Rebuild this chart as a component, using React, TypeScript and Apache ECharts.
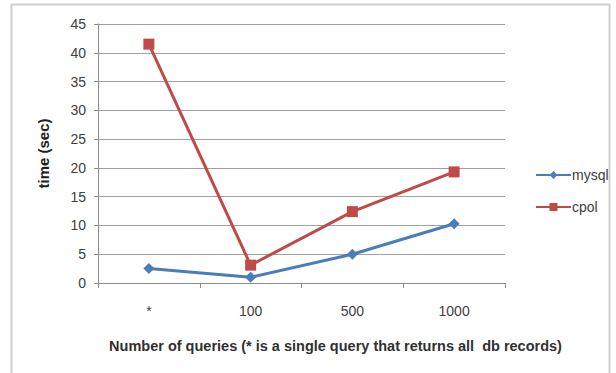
import React, { useEffect, useRef } from "react";
import * as echarts from "echarts";

const categories = ["*", "100", "500", "1000"];
const mysqlValues = [2.5, 1.0, 5.0, 10.3];
const cpolValues = [41.5, 3.1, 12.4, 19.3];
const yTicks = { min: 0, max: 45, interval: 5 };

export default function App() {
  const ref = useRef<HTMLDivElement>(null);
  useEffect(() => {
    if (!ref.current) return;
    const chart = echarts.init(ref.current, undefined, { renderer: "svg" });
    const font = "'Liberation Sans', Arial, sans-serif";
    chart.setOption({
      animation: false,
      backgroundColor: "#ffffff",
      textStyle: { fontFamily: font },
      graphic: [
        {
          type: "rect",
          shape: { x: 11.5, y: 4.5, width: 598, height: 380 },
          style: { fill: "none", stroke: "#cfcfcf", lineWidth: 2 },
          silent: true,
        },
      ],
      grid: { left: 98, right: 111, top: 24, bottom: 90, containLabel: false },
      legend: {
        orient: "vertical",
        left: 530,
        top: 163,
        itemWidth: 35,
        itemHeight: 10,
        itemGap: 18,
        textStyle: { fontSize: 14, color: "#404040", fontFamily: font, padding: [0, 0, 0, -4] },
        data: ["mysql", "cpol"],
      },
      xAxis: {
        type: "category",
        data: categories,
        boundaryGap: true,
        name: "Number of queries (* is a single query that returns all  db records)",
        nameLocation: "middle",
        nameGap: 55,
        nameTextStyle: {
          fontSize: 14.5,
          fontWeight: "bold",
          color: "#303030",
          fontFamily: font,
          padding: [0, 0, 0, 68],
        },
        axisLine: { lineStyle: { color: "#8c8c8c", width: 1 } },
        axisTick: { show: true, alignWithLabel: false, length: 5, lineStyle: { color: "#8c8c8c" } },
        axisLabel: { fontSize: 14, color: "#404040", margin: 21 },
        splitLine: { show: false },
      },
      yAxis: {
        type: "value",
        min: yTicks.min,
        max: yTicks.max,
        interval: yTicks.interval,
        name: "time (sec)",
        nameLocation: "middle",
        nameRotate: 90,
        nameGap: 47,
        nameTextStyle: { fontSize: 15, fontWeight: "bold", color: "#202020", fontFamily: font },
        axisLine: { show: true, lineStyle: { color: "#8c8c8c", width: 1 } },
        axisTick: { show: true, length: 4, lineStyle: { color: "#8c8c8c" } },
        axisLabel: { fontSize: 14, color: "#404040", margin: 12 },
        splitLine: { show: true, lineStyle: { color: "#a0a0a0", width: 1.2 } },
      },
      series: [
        {
          name: "mysql",
          type: "line",
          data: mysqlValues,
          symbol: "diamond",
          symbolSize: 11,
          itemStyle: { color: "#4a7ebb" },
          lineStyle: { color: "#4a7ebb", width: 3 },
        },
        {
          name: "cpol",
          type: "line",
          data: cpolValues,
          symbol: "rect",
          symbolSize: 11,
          itemStyle: { color: "#be4b48" },
          lineStyle: { color: "#be4b48", width: 3 },
        },
      ],
    });
    return () => chart.dispose();
  }, []);
  return (
    <div
      ref={ref}
      style={{ position: "fixed", left: 0, top: 0, width: 616, height: 373 }}
    />
  );
}
